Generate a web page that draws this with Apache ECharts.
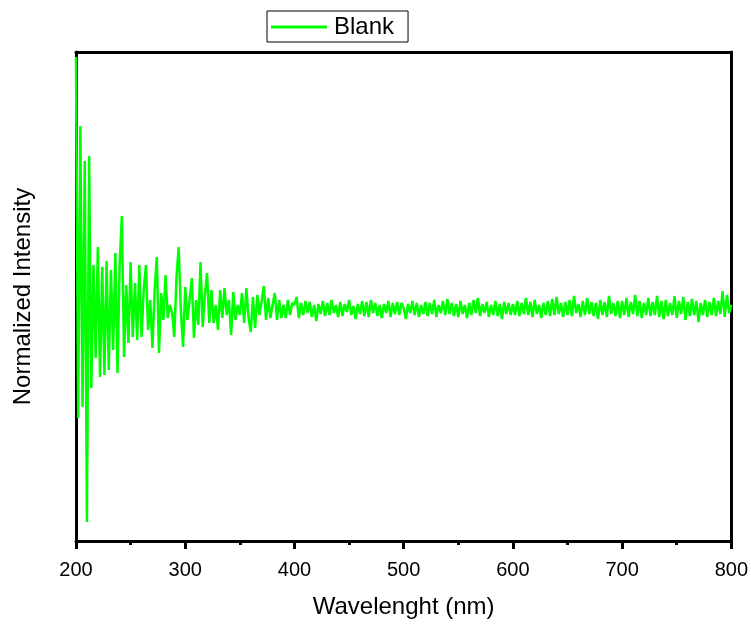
<!DOCTYPE html>
<html>
<head>
<meta charset="utf-8">
<script src="https://cdn.jsdelivr.net/npm/echarts@6/dist/echarts.min.js"></script>
<style>html,body{margin:0;padding:0;background:#fff}#c{width:751px;height:624px}</style>
</head>
<body>
<div id="c"></div>
<script>
// Wavelength sampling: 200..800 nm, every 2 nm
var wavelengthStart = 200;
var wavelengthStep = 2;
var xTickLabels = ['200', '300', '400', '500', '600', '700', '800'];

// Blank intensity (arbitrary normalized units)
var blank200 = [484,123,415,134,380,19,385,153,276,183,
  294,164,274,166,280,171,271,191,288,168,
  278,325,184,256,198,279,204,258,201,276,
  204,251,276,211,241,193,251,284,188,248,
  221,266,223,236,228,204,264,294,231,194];
var blank300 = [254,221,241,263,203,241,216,279,214,246,
  268,218,251,218,236,211,251,223,253,226,
  241,206,249,221,236,226,248,218,253,223,
  209,244,213,246,226,240,255,221,243,223,
  236,248,221,241,223,236,223,241,226,238];
var blank400 = [236,244,223,238,226,240,228,239,224,236,
  220,237,227,240,225,238,226,241,228,236,
  224,239,225,237,229,241,226,235,222,237,
  227,240,225,239,224,241,228,238,225,236,
  223,237,228,240,224,238,227,239,226,238];
var blank500 = [233,222,237,228,240,226,238,224,236,227,
  239,225,238,227,241,224,236,228,240,226,
  242,227,238,225,237,224,240,227,236,223,
  238,226,241,228,243,225,237,228,239,224,
  236,226,240,225,237,222,239,227,238,226];
var blank600 = [237,226,240,225,238,227,243,226,239,224,
  241,227,236,223,238,226,240,225,242,226,
  244,227,238,224,239,226,241,225,245,228,
  237,224,240,226,243,227,239,225,238,222,
  241,226,239,224,245,227,238,225,240,223];
var blank700 = [240,226,243,224,239,227,246,225,240,223,
  238,226,243,225,239,226,245,224,240,222,
  241,225,238,226,245,223,240,227,244,221,
  239,225,242,226,240,219,238,226,241,224,
  239,226,243,225,240,227,250,224,246,228,236];

var blankValues = [].concat(blank200, blank300, blank400, blank500, blank600, blank700);
var blankData = blankValues.map(function (v, i) { return [wavelengthStart + i * wavelengthStep, v]; });

var chart = echarts.init(document.getElementById('c'), null, {renderer: 'canvas'});
var font = 'Liberation Sans, Arial, sans-serif';
chart.setOption({
  animation: false,
  backgroundColor: '#fff',
  grid: {left: 76, right: 19, top: 52, bottom: 83},
  legend: {
    left: 267, top: 11,
    data: ['Blank'],
    icon: 'rect',
    itemWidth: 56, itemHeight: 3, itemGap: 6,
    padding: [4, 14, 3, 4],
    borderColor: '#000', borderWidth: 1,
    textStyle: {fontFamily: font, fontSize: 24, color: '#000', lineHeight: 24, padding: [0, 0, 0, 2]}
  },
  xAxis: [{
    type: 'value', min: 200, max: 800, interval: 100,
    name: 'Wavelenght (nm)', nameLocation: 'middle', nameGap: 54,
    nameTextStyle: {fontFamily: font, fontSize: 24, color: '#000'},
    axisLine: {show: true, onZero: false, lineStyle: {color: '#000', width: 3}},
    axisTick: {show: true, length: 8, lineStyle: {color: '#000', width: 3}},
    minorTick: {show: true, splitNumber: 2, length: 4, lineStyle: {color: '#000', width: 3}},
    axisLabel: {fontFamily: font, fontSize: 20, color: '#000', margin: 19,
      formatter: function (v) { var s = String(v); return xTickLabels.indexOf(s) >= 0 ? s : ''; }},
    splitLine: {show: false}
  }, {
    type: 'value', min: 200, max: 800, interval: 100, position: 'top',
    axisLine: {show: true, onZero: false, lineStyle: {color: '#000', width: 3}},
    axisTick: {show: false}, axisLabel: {show: false}, splitLine: {show: false}
  }],
  yAxis: [{
    type: 'value', min: 0, max: 489,
    name: 'Normalized Intensity', nameLocation: 'middle', nameGap: 41,
    nameTextStyle: {fontFamily: font, fontSize: 24, color: '#000'},
    axisLine: {show: true, onZero: false, lineStyle: {color: '#000', width: 3}},
    axisTick: {show: false}, axisLabel: {show: false}, splitLine: {show: false}
  }, {
    type: 'value', min: 0, max: 489, position: 'right',
    axisLine: {show: true, onZero: false, lineStyle: {color: '#000', width: 3}},
    axisTick: {show: false}, axisLabel: {show: false}, splitLine: {show: false}
  }],
  series: [{
    name: 'Blank', type: 'line', data: blankData,
    showSymbol: false, symbol: 'none', sampling: null,
    lineStyle: {color: '#00ff00', width: 2.5},
    itemStyle: {color: '#00ff00'},
    z: 1
  }]
});
</script>
</body>
</html>
